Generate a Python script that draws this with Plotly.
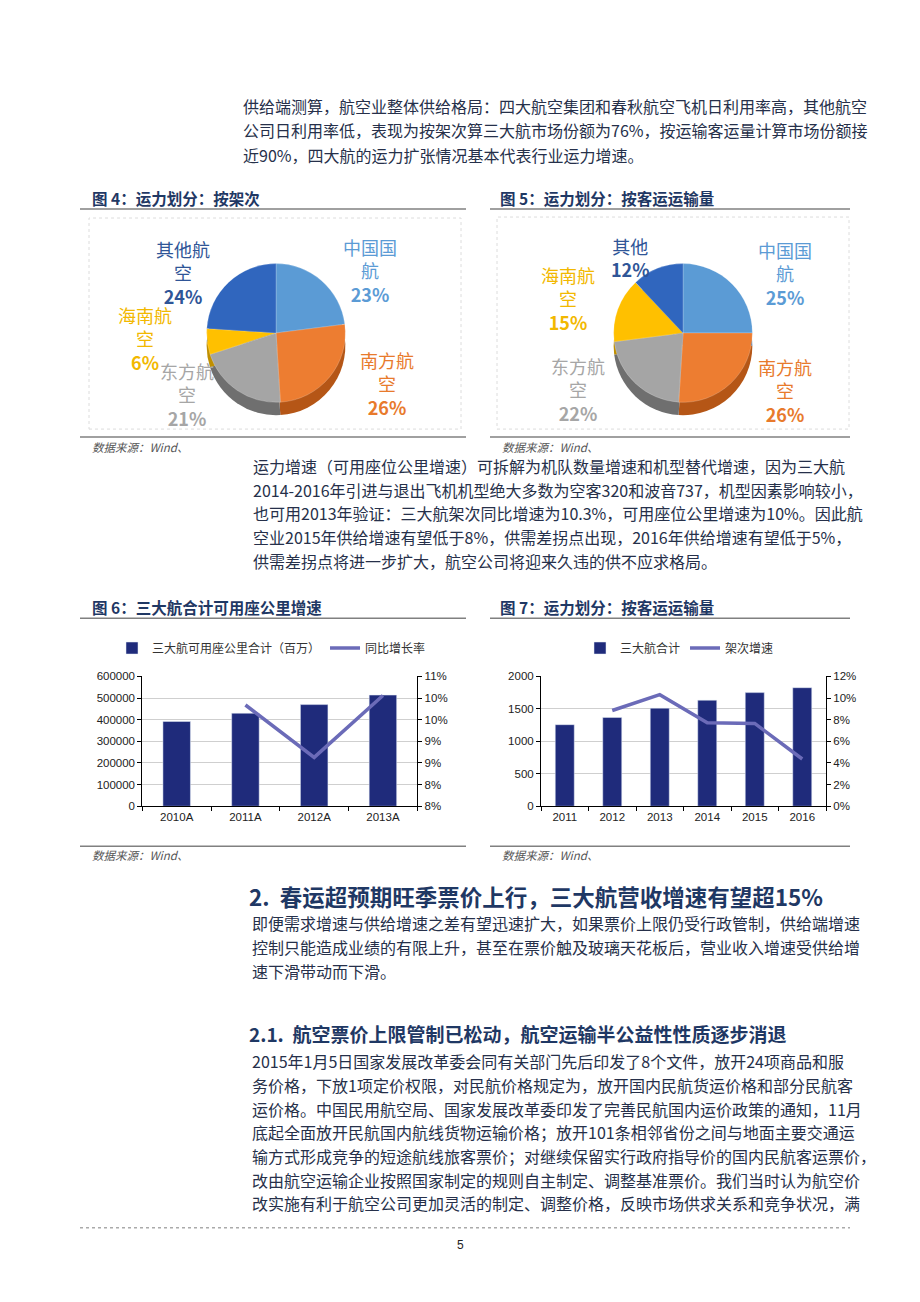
import plotly.graph_objects as go

# ---------------- data ----------------
airlines4 = ["中国国航", "南方航空", "东方航空", "海南航空", "其他航空"]
share4 = [23, 26, 21, 6, 24]
airlines5 = ["中国国航", "南方航空", "东方航空", "海南航空", "其他"]
share5 = [25, 26, 22, 15, 12]

cats6 = ["2010A", "2011A", "2012A", "2013A"]
ask6 = [392000, 430000, 470000, 514000]
growth6 = [None, 0.1034, 0.0913, 0.1056]
ticks6_right = [0.08, 0.085, 0.09, 0.095, 0.10, 0.105, 0.11]
ticktext6_right = ["8%", "8%", "9%", "9%", "10%", "10%", "11%"]

cats7 = ["2011", "2012", "2013", "2014", "2015", "2016"]
flights7 = [1257, 1369, 1511, 1634, 1751, 1827]
growth7 = [None, 0.0885, 0.1032, 0.0773, 0.0766, 0.0437]
ticks7_right = [0, 0.02, 0.04, 0.06, 0.08, 0.10, 0.12]
ticktext7_right = ["0%", "2%", "4%", "6%", "8%", "10%", "12%"]

legend6 = ["三大航可用座公里合计（百万）", "同比增长率"]
legend7 = ["三大航合计", "架次增速"]

# ---------------- styles ----------------
W, H = 920, 1302
def X(p):
    return p / W
def Y(p):
    return 1 - p / H

CJK = "Noto Sans CJK SC"
BODY = "#26304a"
NAVY = "#1f3864"
pie_colors = ["#5b9bd5", "#ed7d31", "#a5a5a5", "#ffc000", "#3066be"]
pie_dark = ["#3f78b0", "#b55616", "#6f6f6f", "#c08f00", "#24498a"]
label_colors = ["#5b9bd5", "#e87a2c", "#a6a6a6", "#f2b800", "#2f5597"]
BAR = "#1f2b7b"
LINE = "#6b6bb8"

fig = go.Figure()

# ---------------- pies ----------------
def pie_domain(cx, cy, d, dy=0):
    return dict(x=[X(cx - d / 2), X(cx + d / 2)], y=[Y(cy + dy + d / 2), Y(cy + dy - d / 2)])

for labels, vals, cx in [(airlines4, share4, 276), (airlines5, share5, 683)]:
    # depth (side) layer
    fig.add_trace(go.Pie(labels=labels, values=vals, sort=False, direction="clockwise",
                         marker=dict(colors=pie_dark, line=dict(width=0)),
                         textinfo="none", hoverinfo="skip", showlegend=False,
                         domain=pie_domain(cx, 330, 140, dy=13)))
    fig.add_trace(go.Pie(labels=labels, values=vals, sort=False, direction="clockwise",
                         marker=dict(colors=pie_colors, line=dict(width=0.5, color="rgba(255,255,255,0.4)")),
                         textinfo="none", showlegend=False,
                         domain=pie_domain(cx, 330, 140)))

annotations = []

def wrap(name):
    return name[:3] + "<br>" + name[3:] if len(name) > 3 else name

pie4_pos = [(370, 267), (387, 381), (187, 392), (145, 336), (183, 269)]
pie5_pos = [(785, 270), (785, 388), (578, 387), (568, 295), (630, 254)]
for labels, vals, pos in [(airlines4, share4, pie4_pos), (airlines5, share5, pie5_pos)]:
    for i, (name, v) in enumerate(zip(labels, vals)):
        annotations.append(dict(
            x=X(pos[i][0]), y=Y(pos[i][1]), xref="paper", yref="paper",
            text=f"{wrap(name)}<br><b>{v}%</b>", showarrow=False,
            xanchor="center", yanchor="middle", align="center",
            font=dict(family=CJK, size=18, color=label_colors[i])))

# ---------------- bar + line charts ----------------
fig.add_trace(go.Bar(x=cats6, y=ask6, name=legend6[0], marker_color=BAR,
                     xaxis="x", yaxis="y", legend="legend"))
fig.add_trace(go.Scatter(x=cats6, y=growth6, name=legend6[1], mode="lines",
                         line=dict(color=LINE, width=3.5), xaxis="x", yaxis="y2",
                         legend="legend"))
fig.add_trace(go.Bar(x=cats7, y=flights7, name=legend7[0], marker_color=BAR,
                     xaxis="x2", yaxis="y3", legend="legend2"))
fig.add_trace(go.Scatter(x=cats7, y=growth7, name=legend7[1], mode="lines",
                         line=dict(color=LINE, width=3.5), xaxis="x2", yaxis="y4",
                         legend="legend2"))

tickfont = dict(family="Arial", size=11.5, color="#222")
ydom = [Y(807.7), Y(676.7)]
xaxis_common = dict(type="category", showline=True, linecolor="#000", linewidth=1,
                    ticks="outside", ticklen=4, tickcolor="#000", tickson="boundaries",
                    tickfont=tickfont, showgrid=False, fixedrange=True)
yleft_common = dict(showline=True, linecolor="#000", linewidth=1, ticks="outside",
                    ticklen=4, tickcolor="#000", tickfont=tickfont, showgrid=True,
                    gridcolor="#cfcfcf", gridwidth=1, zeroline=False, domain=ydom,
                    tickformat="d")
yright_common = dict(showline=True, linecolor="#000", linewidth=1, ticks="outside",
                     ticklen=4, tickcolor="#000", tickfont=tickfont, showgrid=False,
                     zeroline=False, side="right")

fig.update_layout(
    xaxis=dict(domain=[X(142.3), X(417.3)], anchor="y", **xaxis_common),
    yaxis=dict(range=[0, 600000], dtick=100000, anchor="x", **yleft_common),
    yaxis2=dict(range=[0.08, 0.11], tickvals=ticks6_right, ticktext=ticktext6_right,
                overlaying="y", anchor="x", **yright_common),
    xaxis2=dict(domain=[X(541), X(826)], anchor="y3", **xaxis_common),
    yaxis3=dict(range=[0, 2000], dtick=500, anchor="x2", **yleft_common),
    yaxis4=dict(range=[0, 0.12], tickvals=ticks7_right, ticktext=ticktext7_right,
                overlaying="y3", anchor="x2", **yright_common),
    bargap=0.6,
)

legend_common = dict(orientation="h", yanchor="middle", xanchor="left",
                     font=dict(family=CJK, size=12, color="#333"),
                     bgcolor="rgba(0,0,0,0)", itemwidth=30, traceorder="normal")
fig.update_layout(
    legend=dict(x=X(112), y=Y(648), **legend_common),
    legend2=dict(x=X(580), y=Y(648), **legend_common),
)

# ---------------- text ----------------
def text(x, y, s, size=16, color=BODY, bold=False, italic=False, family=CJK, anchor="left"):
    if bold:
        s = f"<b>{s}</b>"
    if italic:
        s = f"<i>{s}</i>"
    annotations.append(dict(x=X(x), y=Y(y), xref="paper", yref="paper", text=s,
                            showarrow=False, xanchor=anchor, yanchor="middle",
                            font=dict(family=family, size=size, color=color)))

para1 = ["供给端测算，航空业整体供给格局：四大航空集团和春秋航空飞机日利用率高，其他航空",
         "公司日利用率低，表现为按架次算三大航市场份额为76%，按运输客运量计算市场份额接",
         "近90%，四大航的运力扩张情况基本代表行业运力增速。"]
for i, s in enumerate(para1):
    text(241, 101 + 24.5 * i, s)

para2 = ["运力增速（可用座位公里增速）可拆解为机队数量增速和机型替代增速，因为三大航",
         "2014-2016年引进与退出飞机机型绝大多数为空客320和波音737，机型因素影响较小，",
         "也可用2013年验证：三大航架次同比增速为10.3%，可用座位公里增速为10%。因此航",
         "空业2015年供给增速有望低于8%，供需差拐点出现，2016年供给增速有望低于5%，",
         "供需差拐点将进一步扩大，航空公司将迎来久违的供不应求格局。"]
for i, s in enumerate(para2):
    text(251, 464 + 24 * i, s)

text(247, 898, "2.  春运超预期旺季票价上行，三大航营收增速有望超15%", size=22.5, color=NAVY, bold=True)
para3 = ["即便需求增速与供给增速之差有望迅速扩大，如果票价上限仍受行政管制，供给端增速",
         "控制只能造成业绩的有限上升，甚至在票价触及玻璃天花板后，营业收入增速受供给增",
         "速下滑带动而下滑。"]
for i, s in enumerate(para3):
    text(250, 926 + 24 * i, s)

text(247, 1037, "2.1.  航空票价上限管制已松动，航空运输半公益性性质逐步消退", size=19, color=NAVY, bold=True)
para4 = ["2015年1月5日国家发展改革委会同有关部门先后印发了8个文件，放开24项商品和服",
         "务价格，下放1项定价权限，对民航价格规定为，放开国内民航货运价格和部分民航客",
         "运价格。中国民用航空局、国家发展改革委印发了完善民航国内运价政策的通知，11月",
         "底起全面放开民航国内航线货物运输价格；放开101条相邻省份之间与地面主要交通运",
         "输方式形成竞争的短途航线旅客票价；对继续保留实行政府指导价的国内民航客运票价，",
         "改由航空运输企业按照国家制定的规则自主制定、调整基准票价。我们当时认为航空价",
         "改实施有利于航空公司更加灵活的制定、调整价格，反映市场供求关系和竞争状况，满"]
for i, s in enumerate(para4):
    text(250, 1065 + 23.9 * i, s)

# figure titles & sources
text(90, 194, "图 4：运力划分：按架次", size=15.5, color=NAVY, bold=True)
text(498, 194, "图 5：运力划分：按客运运输量", size=15.5, color=NAVY, bold=True)
text(90, 607, "图 6：三大航合计可用座公里增速", size=15.5, color=NAVY, bold=True)
text(498, 607, "图 7：运力划分：按客运运输量", size=15.5, color=NAVY, bold=True)
for sx, sy in [(90, 445), (500, 445), (90, 857), (500, 857)]:
    text(sx, sy, "数据来源：Wind、", size=11.5, color="#555", italic=True)
text(460, 1251, "5", size=12, color="#222", family="Arial", anchor="center")

# ---------------- shapes ----------------
shapes = []
def hline(x0, x1, y, color="#808080", width=1.5, dash="solid"):
    shapes.append(dict(type="line", xref="paper", yref="paper", x0=X(x0), x1=X(x1),
                       y0=Y(y), y1=Y(y), line=dict(color=color, width=width, dash=dash)))

for y in [205, 435, 618, 848]:
    hline(80, 466, y)
    hline(490, 850, y)
hline(80, 850, 1233, color="#aaaaaa", width=1.5, dash="dot")

for (x0, y0, x1, y1) in [(89, 214, 461, 427), (497, 213, 849, 427)]:
    shapes.append(dict(type="rect", xref="paper", yref="paper", x0=X(x0), x1=X(x1),
                       y0=Y(y1), y1=Y(y0), line=dict(color="#dcdcdc", width=1, dash="dot")))

fig.update_layout(
    width=W, height=H, autosize=False,
    margin=dict(l=0, r=0, t=0, b=0),
    paper_bgcolor="white", plot_bgcolor="white",
    annotations=annotations, shapes=shapes,
)

fig.write_html("out.html", config={"displayModeBar": False},
               post_script="document.body.style.margin='0px';")
